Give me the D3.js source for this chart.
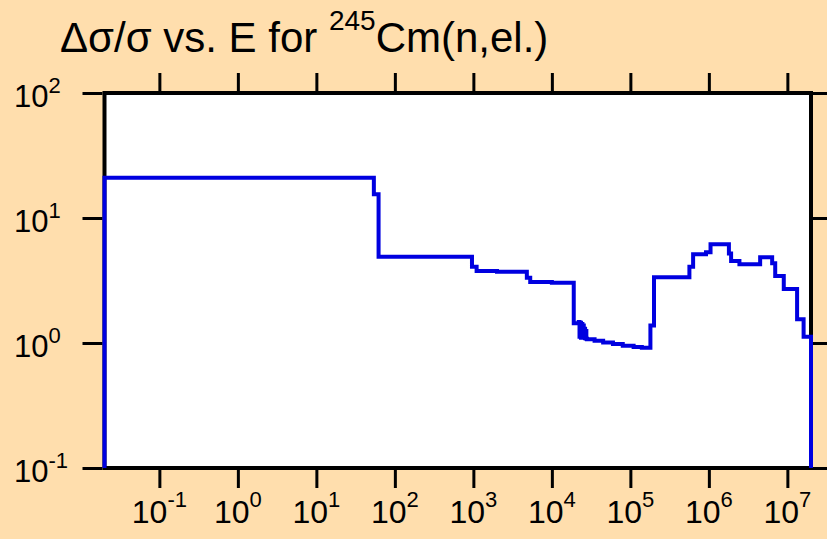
<!DOCTYPE html>
<html>
<head>
<meta charset="utf-8">
<script src="https://cdn.jsdelivr.net/npm/d3@7"></script>
<style>
  body { margin: 0; background: #ffdead; }
  svg { display: block; font-family: "Liberation Sans", Arial, sans-serif; }
</style>
</head>
<body>
<svg width="827" height="539"></svg>
<script>
// lower energy edge of each bin (eV) and relative uncertainty
var energy = [0.02, 54, 62, 960, 1100, 2000, 4800, 5300, 1.0e4, 1.9e4,
    2.2e4, 2.25e4, 2.3e4, 2.35e4, 2.4e4, 2.45e4, 2.5e4, 2.55e4, 2.6e4, 2.65e4,
    2.7e4, 2.75e4, 2.8e4, 3.5e4, 4.5e4, 6e4,
    8e4, 1.1e5, 1.4e5, 1.8e5, 2.0e5, 5.65e5, 6.3e5, 9.2e5, 1.05e6, 1.8e6,
    1.92e6, 2.45e6, 4.5e6, 6.4e6, 7.0e6, 9.0e6, 1.33e7, 1.61e7];
var relErr = [21.0, 15.5, 4.9, 4.08, 3.76, 3.72, 3.33, 3.08, 3.03, 1.44,
    1.47, 1.12, 1.45, 1.1, 1.42, 1.12, 1.38, 1.1, 1.3, 1.09,
    1.25, 1.08, 1.07, 1.04, 1.01, 0.98,
    0.95, 0.93, 0.915, 1.38, 3.36, 4.08, 5.13, 5.33, 6.16, 5.2,
    4.53, 4.26, 4.85, 4.34, 3.44, 2.70, 1.55, 1.12];
var eMax = 2e7;

var xTicks = [1e-1, 1e0, 1e1, 1e2, 1e3, 1e4, 1e5, 1e6, 1e7];
var xExp = ["-1", "0", "1", "2", "3", "4", "5", "6", "7"];
var yTicks = [1e-1, 1e0, 1e1, 1e2];
var yExp = ["-1", "0", "1", "2"];

var svg = d3.select("svg");
var pLeft = 104.5, pRight = 811, pTop = 93, pBottom = 468;

var x = d3.scaleLog().domain([0.02, eMax]).range([pLeft, pRight]);
var y = d3.scaleLog().domain([0.1, 100]).range([pBottom, pTop]);

// title
var title = svg.append("text")
    .attr("x", 60).attr("y", 52)
    .style("font-size", "42px");
title.append("tspan").text("\u0394\u03c3/\u03c3 vs. E for ");
title.append("tspan").attr("dy", -22).style("font-size", "28px").text("245");
title.append("tspan").attr("dy", 22).text("Cm(n,el.)");

// plot area
svg.append("rect")
    .attr("x", pLeft).attr("y", pTop)
    .attr("width", pRight - pLeft).attr("height", pBottom - pTop)
    .attr("fill", "white");

function ticks(axis, tr) {
    var g = svg.append("g").attr("transform", tr).call(axis);
    g.select(".domain").remove();
    g.selectAll(".tick line").attr("stroke", "black").attr("stroke-width", 3);
    g.selectAll(".tick text").remove();
}
ticks(d3.axisBottom(x).tickValues(xTicks).tickSize(18).tickFormat(""), "translate(0," + (pBottom + 2) + ")");
ticks(d3.axisTop(x).tickValues(xTicks).tickSize(18).tickFormat(""), "translate(0," + (pTop - 2) + ")");
ticks(d3.axisLeft(y).tickValues(yTicks).tickSize(20).tickFormat(""), "translate(" + (pLeft - 2) + ",0)");
ticks(d3.axisRight(y).tickValues(yTicks).tickSize(20).tickFormat(""), "translate(" + (pRight + 2) + ",0)");

// frame
svg.append("rect")
    .attr("x", pLeft).attr("y", pTop)
    .attr("width", pRight - pLeft).attr("height", pBottom - pTop)
    .attr("fill", "none").attr("stroke", "black").attr("stroke-width", 4);

// step line
var pts = [[energy[0], 0.1]];
energy.forEach(function(e, i) { pts.push([e, relErr[i]]); });
pts.push([eMax, relErr[relErr.length - 1]]);
pts.push([eMax, 0.1]);

var line = d3.line()
    .x(function(d) { return x(d[0]); })
    .y(function(d) { return y(d[1]); })
    .curve(d3.curveStepAfter);

svg.append("path")
    .datum(pts)
    .attr("d", line)
    .attr("fill", "none")
    .attr("stroke", "#0000e0")
    .attr("stroke-width", 4);

// tick labels
var xl = svg.selectAll(".xlab").data(xTicks).enter().append("text")
    .attr("class", "xlab")
    .attr("x", function(d) { return x(d); })
    .attr("y", 523)
    .attr("text-anchor", "middle")
    .style("font-size", "32px");
xl.append("tspan").text("10");
xl.append("tspan").attr("dy", -16).style("font-size", "22px")
    .text(function(d, i) { return xExp[i]; });

var yl = svg.selectAll(".ylab").data(yTicks).enter().append("text")
    .attr("class", "ylab")
    .attr("x", 14)
    .attr("y", function(d) { return y(d) + 13.5; })
    .style("font-size", "31px");
yl.append("tspan").text("10");
yl.append("tspan").attr("dy", -14).style("font-size", "22px")
    .text(function(d, i) { return yExp[i]; });
</script>
</body>
</html>
